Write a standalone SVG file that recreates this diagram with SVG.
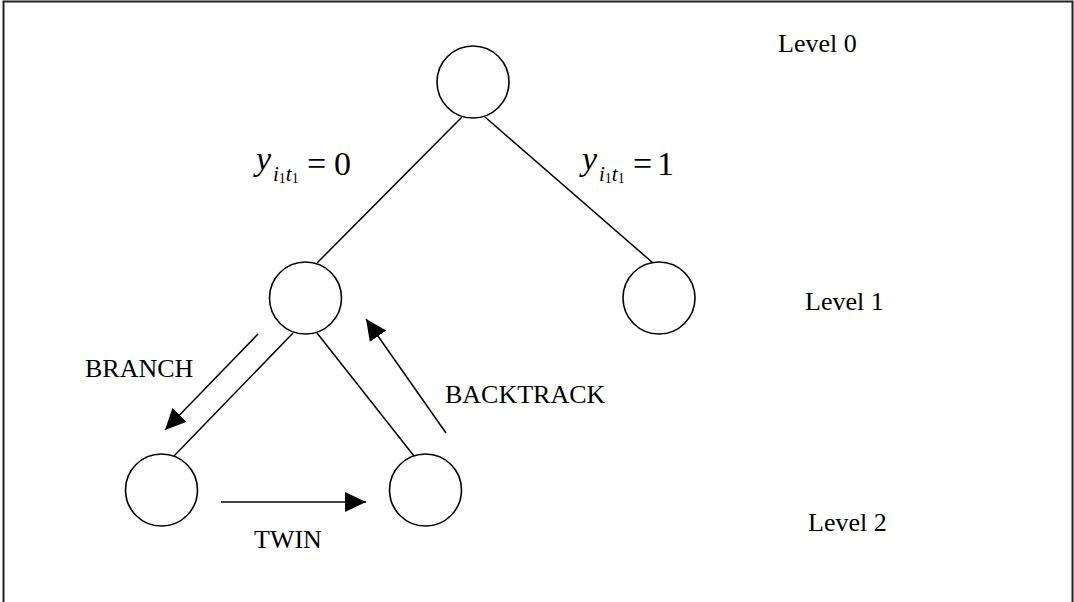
<svg xmlns="http://www.w3.org/2000/svg" width="1074" height="602" viewBox="0 0 1074 602">
<style>
.node{fill:#fff;stroke:#000;stroke-width:1.6}
.edge{stroke:#000;stroke-width:1.5;fill:none}
.lbl{font-family:"Liberation Serif","Times New Roman",serif;font-size:26px;fill:#000}
.m{font-family:"Liberation Serif","Times New Roman",serif;fill:#000}
.it{font-style:italic}
</style>
<defs>
<marker id="ah" markerUnits="userSpaceOnUse" markerWidth="22" markerHeight="22" viewBox="0 0 22 22" refX="21" refY="11" orient="auto">
<path d="M0,1 L21,11 L0,21 Z" fill="#000"/>
</marker>
</defs>
<rect x="3.5" y="1.5" width="1069" height="640" fill="#fff" stroke="#222" stroke-width="2"/>
<g id="connectors">
<line class="edge" x1="462" y1="117" x2="317" y2="263"/>
<line class="edge" x1="485" y1="117" x2="653" y2="263"/>
<line class="edge" x1="293" y1="333" x2="173" y2="457"/>
<line class="edge" x1="317" y1="333" x2="414" y2="456"/>
<line class="edge" x1="258" y1="334" x2="165" y2="430" marker-end="url(#ah)"/>
<line class="edge" x1="446" y1="433" x2="366" y2="319" marker-end="url(#ah)"/>
<line class="edge" x1="221" y1="502" x2="366" y2="502" marker-end="url(#ah)"/>
</g>
<g id="root"><circle class="node" cx="473" cy="82" r="36"/></g>
<g id="l1-left"><circle class="node" cx="305.5" cy="298" r="36"/></g>
<g id="l1-right"><circle class="node" cx="659" cy="298" r="36"/></g>
<g id="l2-left"><circle class="node" cx="161.5" cy="490" r="36"/></g>
<g id="l2-right"><circle class="node" cx="425.5" cy="490" r="36"/></g>
<g id="labels">
<text class="lbl" x="778" y="52">Level 0</text>
<text class="lbl" x="805" y="310">Level 1</text>
<text class="lbl" x="808" y="531">Level 2</text>
<text class="lbl" x="85" y="377">BRANCH</text>
<text class="lbl" x="445" y="403">BACKTRACK</text>
<text class="lbl" x="254" y="548">TWIN</text>
</g>
<g id="eq0">
<text class="m it" x="256" y="170" font-size="34">y</text>
<text class="m" x="273" y="181" font-size="21"><tspan class="it">i</tspan><tspan font-size="14" dy="2">1</tspan><tspan class="it" dy="-2">t</tspan><tspan font-size="14" dy="2">1</tspan></text>
<text class="m" x="307" y="175" font-size="34">=</text>
<text class="m" x="334" y="175" font-size="34">0</text>
</g>
<g id="eq1">
<text class="m it" x="582" y="170" font-size="34">y</text>
<text class="m" x="599" y="181" font-size="21"><tspan class="it">i</tspan><tspan font-size="14" dy="2">1</tspan><tspan class="it" dy="-2">t</tspan><tspan font-size="14" dy="2">1</tspan></text>
<text class="m" x="633" y="175" font-size="34">=</text>
<text class="m" x="657" y="175" font-size="34">1</text>
</g>
</svg>
